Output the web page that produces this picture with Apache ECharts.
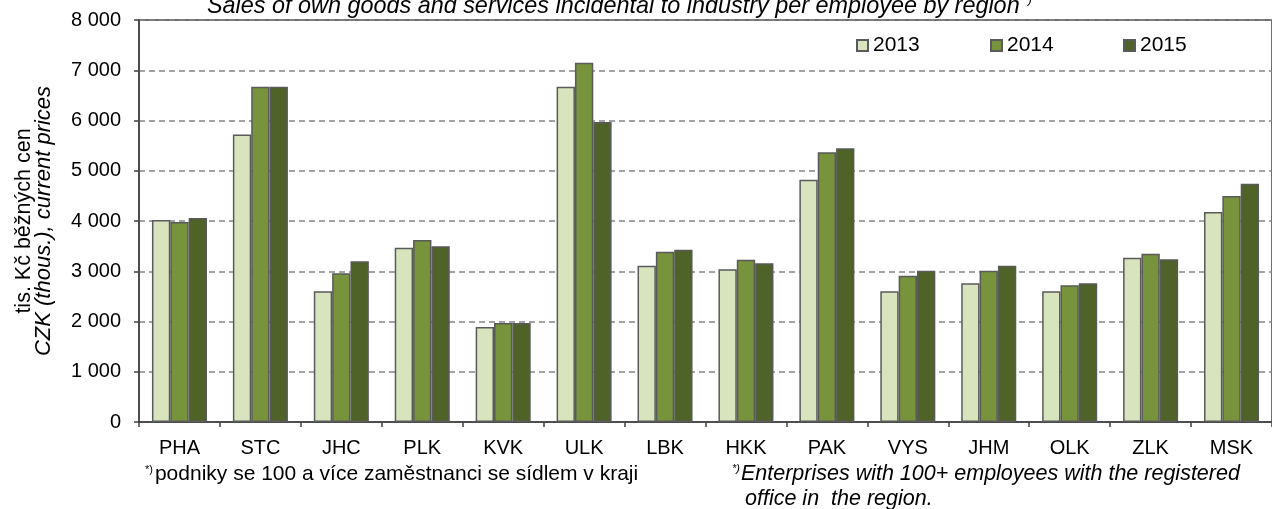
<!DOCTYPE html>
<html>
<head>
<meta charset="utf-8">
<script src="https://cdn.jsdelivr.net/npm/echarts@6/dist/echarts.min.js"></script>
<style>
html,body{margin:0;padding:0;background:#fff;}
#c{width:1272px;height:509px;}
</style>
</head>
<body>
<div id="c"></div>
<script>
const categories = ['PHA','STC','JHC','PLK','KVK','ULK','LBK','HKK','PAK','VYS','JHM','OLK','ZLK','MSK'];
const years = ['2013','2014','2015'];
const v2013 = [4020,5720,2600,3470,1890,6670,3110,3040,4820,2600,2760,2600,3270,4180];
const v2014 = [3980,6670,2960,3620,1970,7150,3390,3230,5370,2910,3010,2720,3350,4500];
const v2015 = [4060,6670,3200,3500,1970,5970,3430,3160,5450,3010,3110,2760,3240,4740];
const yTicks = {min:0, max:8000, interval:1000};
const colors = ['#d7e4bd','#77933c','#4f6228'];

const FONT = '"Liberation Sans", Arial, sans-serif';
const chart = echarts.init(document.getElementById('c'));
function fmt(v){ const s = String(v); return s.length>3 ? s.slice(0,s.length-3)+' '+s.slice(-3) : s; }

const seriesData = [v2013, v2014, v2015];
const option = {
  animation:false,
  textStyle:{fontFamily:FONT},
  grid:{left:139, right:-7, top:20, bottom:87, show:true, borderColor:'#404040', borderWidth:1.5, backgroundColor:'transparent'},
  legend: years.map((y,i)=>({
    data:[y], left:[856,990,1123][i], top:35, padding:0, itemWidth:11, itemHeight:11, itemGap:4,
    textStyle:{fontSize:21, color:'#000', fontFamily:FONT}, icon:'rect'
  })),
  xAxis:{
    type:'category', data:categories,
    axisLine:{lineStyle:{color:'#404040', width:1.5}},
    axisTick:{show:true, length:5, lineStyle:{color:'#404040', width:1.5}},
    axisLabel:{color:'#000', fontSize:20, margin:16, fontFamily:FONT},
    splitLine:{show:false}
  },
  yAxis:{
    type:'value', min:yTicks.min, max:yTicks.max, interval:yTicks.interval,
    axisLine:{show:true, lineStyle:{color:'#404040', width:1.5}},
    axisTick:{show:true, length:5, lineStyle:{color:'#404040', width:1.5}},
    axisLabel:{color:'#000', fontSize:20, margin:18, formatter:fmt, fontFamily:FONT},
    splitLine:{show:true, lineStyle:{color:'#858585', width:1.5, type:[6,4]}},
    name:'{a|tis. Kč běžných cen}\n{b|CZK (thous.), current prices}',
    nameLocation:'middle', nameRotate:90, nameGap:86,
    nameTextStyle:{rich:{
      a:{fontSize:21.5, color:'#000', fontFamily:FONT, lineHeight:19},
      b:{fontSize:22, color:'#000', fontStyle:'italic', fontFamily:FONT, lineHeight:19}
    }}
  },
  series: years.map((y,i)=>({
    name:y, type:'bar', data:seriesData[i], barGap:'0%', barCategoryGap:'32%',
    itemStyle:{color:colors[i], borderColor:'#5a5a5a', borderWidth:1.5},
    emphasis:{disabled:true}
  })),
  graphic:[
    {type:'text', left:207, top:-5, z:10, style:{
      text:'{t|Sales of own goods and services incidental to industry per employee by region}{s|*)}',
      rich:{t:{fontSize:23.4, fontStyle:'italic', fill:'#000', fontFamily:FONT}, s:{fontSize:11, fontStyle:'italic', fill:'#000', fontFamily:FONT, verticalAlign:'top', padding:[0,0,10,4]}}
    }},
    {type:'text', left:145, top:464, style:{
      text:'{s|*)}{m|podniky se 100 a více zaměstnanci se sídlem v kraji}',
      rich:{s:{fontSize:11, fill:'#000', fontFamily:FONT, padding:[0,2,10,0]}, m:{fontSize:21, fill:'#000', fontFamily:FONT}}
    }},
    {type:'text', left:732, top:463, style:{
      text:'{s|*)}{m|Enterprises with 100+ employees with the registered}',
      rich:{s:{fontSize:11, fontStyle:'italic', fill:'#000', fontFamily:FONT, padding:[0,1,10,0]}, m:{fontSize:21.5, fontStyle:'italic', fill:'#000', fontFamily:FONT}}
    }},
    {type:'text', left:745, top:488, style:{
      text:'office in  the region.', fontSize:21.5, fontStyle:'italic', fill:'#000', fontFamily:FONT
    }}
  ]
};
chart.setOption(option);
</script>
</body>
</html>
